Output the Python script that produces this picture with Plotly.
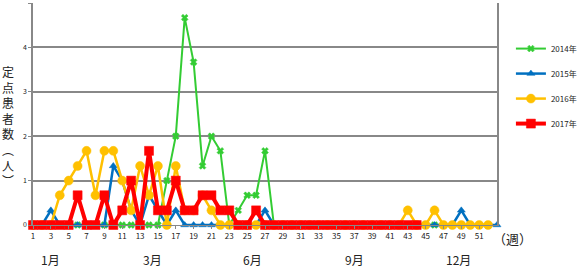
import plotly.graph_objects as go

weeks_2014 = list(range(1, 53))
vals_2014 = [0, 0, 0, 0, 0, 0, 0, 0, 0, 0,
             0, 0, 0, 0, 0, 1, 2, 4.67, 3.67, 1.33,
             2, 1.67, 0, 0.33, 0.67, 0.67, 1.67, 0, 0, 0,
             0, 0, 0, 0, 0, 0, 0, 0, 0, 0,
             0, 0, 0, 0, 0, 0, 0, 0, 0, 0,
             0, 0]

weeks_2015 = list(range(1, 54))
vals_2015 = [0, 0, 0.33, 0, 0, 0, 0, 0, 0, 1.33,
             1, 0.33, 0, 0.67, 0.33, 0, 0.33, 0, 0, 0,
             0, 0, 0, 0, 0, 0, 0.33, 0, 0, 0,
             0, 0, 0, 0, 0, 0, 0, 0, 0, 0,
             0, 0, 0, 0, 0, 0, 0, 0, 0.33, 0,
             0, 0, 0]

weeks_2016 = list(range(1, 53))
vals_2016 = [0, 0, 0, 0.67, 1, 1.33, 1.67, 0.67, 1.67, 1.67,
             1, 0.33, 1.33, 0.67, 1.33, 0, 1.33, 0.33, 0.33, 0.67,
             0.33, 0, 0, 0, 0, 0, 0, 0, 0, 0,
             0, 0, 0, 0, 0, 0, 0, 0, 0, 0,
             0, 0, 0.33, 0, 0, 0.33, 0, 0, 0, 0,
             0, 0]

weeks_2017 = list(range(1, 45))
vals_2017 = [0, 0, 0, 0, 0, 0.67, 0, 0, 0.67, 0,
             0.33, 1, 0, 1.67, 0.33, 0.33, 1, 0.33, 0.33, 0.67,
             0.67, 0.33, 0.33, 0, 0, 0.33, 0, 0, 0, 0,
             0, 0, 0, 0, 0, 0, 0, 0, 0, 0,
             0, 0, 0, 0]

x_tickvals = list(range(1, 52, 2))
x_ticktext = [str(v) for v in x_tickvals]
y_tickvals = [0, 1, 2, 3, 4, 5]

month_labels = ["1月", "3月", "6月", "9月", "12月"]
month_pos = [3.0, 14.4, 25.6, 37.0, 48.7]

y_title = "定<br>点<br>患<br>者<br>数<br>︵<br>人<br>︶"

series = [
    ("2014年", weeks_2014, vals_2014, "#33cc33", 2, "x", 6),
    ("2015年", weeks_2015, vals_2015, "#0070c0", 2.5, "triangle-up", 7),
    ("2016年", weeks_2016, vals_2016, "#ffc000", 2.5, "circle", 9),
    ("2017年", weeks_2017, vals_2017, "#ff0000", 4, "square", 9),
]

fig = go.Figure()
for name, xs, ys, color, lw, sym, ms in series:
    fig.add_trace(go.Scatter(
        x=xs, y=ys, name=name, mode="lines+markers",
        line=dict(color=color, width=lw),
        marker=dict(symbol=sym, size=ms, color=color,
                    line=dict(color=color, width=0.5)),
        legendgroup=name,
        cliponaxis=False,
    ))

W, H = 585, 267
L, R, T, B = 33, 86, 3, 42
ph = H - T - B
pw = W - L - R

fig.update_layout(
    width=W, height=H,
    margin=dict(l=L, r=R, t=T, b=B),
    paper_bgcolor="white", plot_bgcolor="white",
    font=dict(family="Noto Sans CJK JP, Noto Sans, sans-serif", color="#222"),
    showlegend=True,
    legend=dict(x=1.03, xanchor="left", y=0.86, yanchor="top",
                font=dict(size=8, color="#222"), tracegroupgap=6,
                bgcolor="rgba(0,0,0,0)", itemwidth=30),
    xaxis=dict(range=[1, 53], tickvals=x_tickvals, ticktext=x_ticktext,
               tickfont=dict(size=8), showgrid=False, zeroline=False,
               showline=True, linecolor="#888", linewidth=1,
               ticks="outside", ticklen=3, tickcolor="#888"),
    yaxis=dict(range=[0, 5], tickvals=y_tickvals, tickfont=dict(size=7),
               showgrid=True, gridcolor="#888", gridwidth=2, zeroline=False,
               showline=True, mirror=True, linecolor="#888", linewidth=1.5,
               ticks="outside", ticklen=3, tickcolor="#888"),
)

for lbl, pos in zip(month_labels, month_pos):
    fig.add_annotation(x=pos, xref="x", y=(225 - 259) / ph, yref="paper",
                       text=lbl, showarrow=False, font=dict(size=12, color="#222"),
                       xanchor="center", yanchor="middle")

fig.add_annotation(x=(515 - L) / pw, xref="paper", y=(225 - 238) / ph, yref="paper",
                   text="（週）", showarrow=False, font=dict(size=13, color="#222"),
                   xanchor="center", yanchor="middle")

fig.add_annotation(x=(8 - L) / pw, xref="paper", y=(225 - 126) / ph, yref="paper",
                   text=y_title, showarrow=False, font=dict(size=12, color="#222"),
                   xanchor="center", yanchor="middle")

fig.write_html("out.html")
